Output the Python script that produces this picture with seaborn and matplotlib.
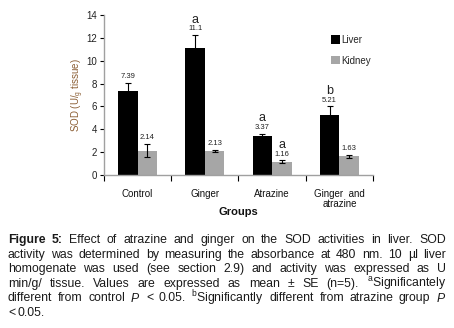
import pandas as pd
import seaborn as sns
import matplotlib.pyplot as plt
from matplotlib.patches import Patch

groups = ["Control", "Ginger", "Atrazine", "Ginger  and\natrazine"]
liver = [7.39, 11.1, 3.37, 5.21]
kidney = [2.14, 2.13, 1.16, 1.63]
liver_se = [0.65, 1.15, 0.25, 0.8]
kidney_se = [0.55, 0.08, 0.12, 0.12]
liver_sig = ["", "a", "a", "b"]
kidney_sig = ["", "", "a", ""]
liver_lbl = ["7.39", "11.1", "3.37", "5.21"]
kidney_lbl = ["2.14", "2.13", "1.16", "1.63"]

caption = [
    "Figure 5: Effect of atrazine and ginger on the SOD activities in liver. SOD",
    "activity was determined by measuring the absorbance at 480 nm. 10 \u00b5l liver",
    "homogenate was used (see section 2.9) and activity was expressed as U",
    "min/g/ tissue. Values are expressed as mean \u00b1 SE (n=5). $^{\\mathrm{a}}$Significantely",
    "different from control $P$ < 0.05. $^{\\mathrm{b}}$Significantly different from atrazine group $P$",
    "< 0.05.",
]

df = pd.DataFrame({
    "group": groups * 2,
    "tissue": ["Liver"] * 4 + ["Kidney"] * 4,
    "sod": liver + kidney,
})

sns.set_style("white")
plt.rcParams['font.family'] = ['Liberation Sans', 'DejaVu Sans']
plt.rcParams['mathtext.fontset'] = 'custom'
plt.rcParams['mathtext.rm'] = 'Liberation Sans'
plt.rcParams['mathtext.it'] = 'Liberation Sans:italic'

colors = {"Liver": "#000000", "Kidney": "#a6a6a6"}

fig = plt.figure(figsize=(4.54, 3.28), dpi=100)
ax = fig.add_axes([0.229, 0.4665, 0.5926, 0.4878])

sns.barplot(data=df, x="group", y="sod", hue="tissue", hue_order=["Liver", "Kidney"],
            palette=colors, width=0.58, errorbar=None, legend=False, ax=ax,
            saturation=1, linewidth=0)

ax.set_ylim(0, 14)
ax.set_xlim(-0.5, 3.5)
ax.set_yticks(range(0, 15, 2))
ax.tick_params(axis='y', labelsize=7, length=3, width=0.8, color='black', pad=2,
               left=True, labelcolor='#222222')
ax.set_xticks(range(4))
ax.set_xticklabels(groups)
ax.tick_params(axis='x', labelsize=7, length=0, pad=10, labelcolor='#111111')
ax.set_xticks([-0.5, 0.5, 1.5, 2.5, 3.5], minor=True)
ax.tick_params(axis='x', which='minor', length=4, width=0.8, color='black', bottom=True)
for lbl in ax.get_xticklabels():
    lbl.set_linespacing(1.0)

for s in ['top', 'right']:
    ax.spines[s].set_visible(False)
for s in ['left', 'bottom']:
    ax.spines[s].set_color('#a0a0a0')
    ax.spines[s].set_linewidth(1.0)

ax.set_ylabel("SOD (U/$_{\\mathrm{g}}$ tissue)", fontsize=7, color='#8b5e34', labelpad=0)
ax.set_xlabel("Groups", fontsize=8, fontweight='bold', color='#111111')
ax.xaxis.set_label_coords(0.5, -0.231)
ax.xaxis.label.set_va('center')

series = [(liver, liver_se, liver_lbl, liver_sig), (kidney, kidney_se, kidney_lbl, kidney_sig)]
for cont, (vals, se, lbls, sig) in zip(ax.containers, series):
    xs = [p.get_x() + p.get_width() / 2 for p in cont.patches]
    ax.errorbar(xs, vals, yerr=se, fmt='none', ecolor='black', elinewidth=0.8,
                capsize=2.2, capthick=0.8)
    for x, v, e, t, s in zip(xs, vals, se, lbls, sig):
        ax.annotate(t, (x, v + e), xytext=(0, 4.5), textcoords='offset points',
                    ha='center', va='center', fontsize=5.5, color='#222222')
        if s:
            ax.annotate(s, (x, v + e), xytext=(0, 11), textcoords='offset points',
                        ha='center', va='center', fontsize=9, color='#222222')

handles = [Patch(facecolor=colors[k], edgecolor='none', label=k) for k in ["Liver", "Kidney"]]
ax.legend(handles=handles, loc='upper left', bbox_to_anchor=(0.83, 0.9), frameon=False,
          fontsize=7, handlelength=0.9, handleheight=0.9, handletextpad=0.1,
          labelspacing=1.1, borderaxespad=0)

# caption, justified line by line
renderer = fig.canvas.get_renderer()
W = fig.bbox.width
H = fig.bbox.height
x0, x1 = 8, 446
for i, line in enumerate(caption):
    y = 1 - (240 + 14.6 * i) / H
    words = line.split(' ')
    objs = []
    for j, w in enumerate(words):
        bold = (i == 0 and j < 2)
        objs.append(fig.text(0, y, w, fontsize=8.8, va='center', ha='left', color='#1a1a1a',
                             fontweight='bold' if bold else 'normal'))
    widths = [o.get_window_extent(renderer).width for o in objs]
    if i == len(caption) - 1:
        gap = 2.5
    else:
        gap = (x1 - x0 - sum(widths)) / (len(words) - 1)
    x = x0
    for o, w in zip(objs, widths):
        o.set_x(x / W)
        x += w + gap

fig.savefig("out.png", dpi=100)
